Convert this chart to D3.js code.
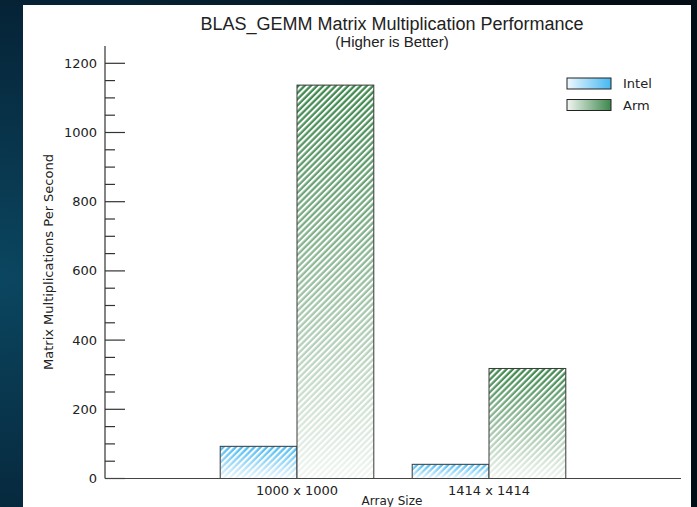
<!DOCTYPE html>
<html>
<head>
<meta charset="utf-8">
<script src="https://cdn.jsdelivr.net/npm/d3@7"></script>
<style>
  html, body { margin: 0; padding: 0; background: #041522; }
  svg { display: block; }
</style>
</head>
<body>
<script>
// data
var categories = ["1000 x 1000", "1414 x 1414"];
var seriesNames = ["Intel", "Arm"];
var intelValues = [93, 41];
var armValues = [1137, 318];
var yTicksMajor = [0, 200, 400, 600, 800, 1000, 1200];

var W = 697, H = 507;
var colors = {
    Intel: { dark: "#45b8f2", light: "#eef8fe" },
    Arm: { dark: "#3d874c", light: "#f2f6f2" }
};

var svg = d3.select("body").append("svg")
    .attr("width", W)
    .attr("height", H);

var defs = svg.append("defs");

// dark background
var bg = defs.append("radialGradient")
    .attr("id", "bg")
    .attr("cx", 0).attr("cy", 0.55).attr("r", 0.9);
bg.append("stop").attr("offset", "0%").attr("stop-color", "#0b4660");
bg.append("stop").attr("offset", "55%").attr("stop-color", "#06263a");
bg.append("stop").attr("offset", "100%").attr("stop-color", "#030d16");

svg.append("rect")
    .attr("width", W).attr("height", H)
    .attr("fill", "url(#bg)");

// white panel
svg.append("rect")
    .attr("x", 23).attr("y", 5)
    .attr("width", 668).attr("height", H)
    .attr("fill", "#fff");

// gradients per series (vertical for bars, horizontal for legend)
seriesNames.forEach(function (s) {
    var gv = defs.append("linearGradient")
        .attr("id", "grad-" + s)
        .attr("x1", 0).attr("y1", 0).attr("x2", 0).attr("y2", 1);
    gv.append("stop").attr("offset", "0%").attr("stop-color", colors[s].dark);
    gv.append("stop").attr("offset", "100%").attr("stop-color", colors[s].light);

    var gh = defs.append("linearGradient")
        .attr("id", "legend-" + s)
        .attr("x1", 0).attr("y1", 0).attr("x2", 1).attr("y2", 0);
    gh.append("stop").attr("offset", "0%").attr("stop-color", colors[s].light);
    gh.append("stop").attr("offset", "100%").attr("stop-color", colors[s].dark);
});

// white diagonal hatching
var hatch = defs.append("pattern")
    .attr("id", "hatch")
    .attr("patternUnits", "userSpaceOnUse")
    .attr("width", 4.4).attr("height", 4.4)
    .attr("patternTransform", "rotate(45)");
hatch.append("rect")
    .attr("x", 0).attr("y", 0)
    .attr("width", 2.1).attr("height", 4.4)
    .attr("fill", "#fff");

// scales
var x = d3.scaleLinear()
    .domain([0, 3])
    .range([105, 681]);

var y = d3.scaleLinear()
    .domain([0, 1250])
    .range([478.5, 46]);

var barW = (x(1) - x(0)) * 0.4;

var rows = categories.map(function (c, i) {
    return { cat: c, pos: i + 1, Intel: intelValues[i], Arm: armValues[i] };
});

var bars = [];
rows.forEach(function (r) {
    bars.push({ s: "Intel", x0: x(r.pos) - barW, v: r.Intel });
    bars.push({ s: "Arm", x0: x(r.pos), v: r.Arm });
});

var g = svg.append("g");

var bar = g.selectAll("g.bar")
    .data(bars)
    .enter().append("g")
    .attr("class", "bar");

bar.append("rect")
    .attr("x", function (d) { return d.x0; })
    .attr("y", function (d) { return y(d.v); })
    .attr("width", barW)
    .attr("height", function (d) { return y(0) - y(d.v); })
    .attr("fill", function (d) { return "url(#grad-" + d.s + ")"; });

bar.append("rect")
    .attr("x", function (d) { return d.x0; })
    .attr("y", function (d) { return y(d.v); })
    .attr("width", barW)
    .attr("height", function (d) { return y(0) - y(d.v); })
    .attr("fill", "url(#hatch)");

bar.append("rect")
    .attr("x", function (d) { return d.x0; })
    .attr("y", function (d) { return y(d.v); })
    .attr("width", barW)
    .attr("height", function (d) { return y(0) - y(d.v); })
    .attr("fill", "none")
    .attr("stroke", "#3a3a3a")
    .attr("stroke-width", 1);

// y axis: major ticks pointing inward with labels, minor ticks every 50
var yAxis = g.append("g")
    .attr("transform", "translate(105,0)")
    .attr("font-family", "DejaVu Sans")
    .attr("font-size", 13);

yAxis.append("line")
    .attr("x1", 0).attr("x2", 0)
    .attr("y1", y(1250)).attr("y2", y(0))
    .attr("stroke", "#333").attr("stroke-width", 1.2);

yAxis.selectAll("line.minor")
    .data(d3.range(0, 1201, 50).filter(function (v) { return v % 200 !== 0; }))
    .enter().append("line")
    .attr("class", "minor")
    .attr("x1", 0).attr("x2", 10)
    .attr("y1", function (d) { return y(d); })
    .attr("y2", function (d) { return y(d); })
    .attr("stroke", "#333").attr("stroke-width", 1.2);

yAxis.selectAll("line.major")
    .data(yTicksMajor)
    .enter().append("line")
    .attr("class", "major")
    .attr("x1", 0).attr("x2", 20)
    .attr("y1", function (d) { return y(d); })
    .attr("y2", function (d) { return y(d); })
    .attr("stroke", "#333").attr("stroke-width", 1.2);

yAxis.selectAll("text")
    .data(yTicksMajor)
    .enter().append("text")
    .attr("x", -8)
    .attr("y", function (d) { return y(d); })
    .attr("dy", "0.35em")
    .attr("text-anchor", "end")
    .attr("fill", "#222")
    .text(function (d) { return d; });

// x axis
g.append("line")
    .attr("x1", x(0)).attr("x2", x(3))
    .attr("y1", y(0)).attr("y2", y(0))
    .attr("stroke", "#444").attr("stroke-width", 1.2);

g.selectAll("text.xtick")
    .data(rows)
    .enter().append("text")
    .attr("class", "xtick")
    .attr("x", function (d) { return x(d.pos); })
    .attr("y", 495)
    .attr("text-anchor", "middle")
    .attr("font-family", "DejaVu Sans")
    .attr("font-size", 13)
    .attr("fill", "#222")
    .text(function (d) { return d.cat; });

g.append("text")
    .attr("x", 392)
    .attr("y", 505)
    .attr("text-anchor", "middle")
    .attr("font-family", "DejaVu Sans")
    .attr("font-size", 12)
    .attr("fill", "#222")
    .text("Array Size");

g.append("text")
    .attr("transform", "translate(53,262) rotate(-90)")
    .attr("text-anchor", "middle")
    .attr("font-family", "DejaVu Sans")
    .attr("font-size", 13)
    .attr("fill", "#222")
    .text("Matrix Multiplications Per Second");

// titles
g.append("text")
    .attr("x", 392)
    .attr("y", 30)
    .attr("text-anchor", "middle")
    .attr("font-family", "Liberation Sans")
    .attr("font-size", 18)
    .attr("fill", "#222")
    .text("BLAS_GEMM Matrix Multiplication Performance");

g.append("text")
    .attr("x", 392)
    .attr("y", 47)
    .attr("text-anchor", "middle")
    .attr("font-family", "Liberation Sans")
    .attr("font-size", 15)
    .attr("fill", "#222")
    .text("(Higher is Better)");

// legend
var legend = g.selectAll("g.legend")
    .data(seriesNames)
    .enter().append("g")
    .attr("class", "legend")
    .attr("transform", function (d, i) { return "translate(567," + (78 + i * 21.5) + ")"; });

legend.append("rect")
    .attr("width", 44).attr("height", 11)
    .attr("fill", function (d) { return "url(#legend-" + d + ")"; })
    .attr("stroke", "#222").attr("stroke-width", 1);

legend.append("text")
    .attr("x", 56)
    .attr("y", 5.5)
    .attr("dy", "0.35em")
    .attr("font-family", "DejaVu Sans")
    .attr("font-size", 13)
    .attr("fill", "#222")
    .text(function (d) { return d; });
</script>
</body>
</html>
